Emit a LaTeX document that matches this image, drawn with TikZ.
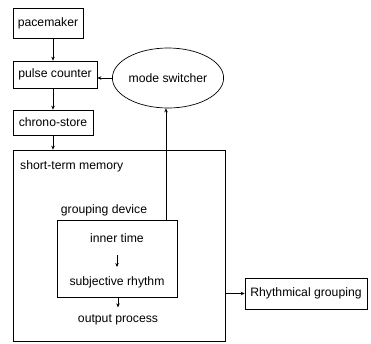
\documentclass[tikz,border=0pt]{standalone}
\usepackage{fontspec}
\setmainfont{Liberation Sans}
\usetikzlibrary{arrows.meta,shapes.geometric,calc}
\begin{document}
\begin{tikzpicture}[x=1pt,y=-1pt,
  every node/.style={font=\fontsize{12.2}{14}\selectfont, inner sep=0pt},
  box/.style={draw, line width=0.7pt},
  lbl/.style={},
  conn/.style={line width=0.7pt, -{Stealth[length=4pt,width=3.5pt]}},
  plain/.style={line width=0.7pt}]
\useasboundingbox (0,0) rectangle (371,343);
% top chain
\node[box, minimum width=70pt, minimum height=30pt] (pm) at (48,23) {pacemaker};
\node[box, minimum width=84pt, minimum height=27pt] (pc) at (55,74.5) {pulse counter};
\node[box, minimum width=80pt, minimum height=25pt] (cs) at (53,122.5) {chrono-store};
\node[box, minimum width=212pt, minimum height=191pt] (stm) at (119,245.5) {};
\node[draw, ellipse, line width=0.7pt, minimum width=106pt, minimum height=60pt] (ms) at (168,78) {mode switcher};
\coordinate (ax) at (53,0);
\draw[conn] (pm.south -| ax) -- (pc.north -| ax);
\draw[conn] (pc.south -| ax) -- (cs.north -| ax);
\draw[conn] (cs.south -| ax) -- (stm.north -| ax);
\draw[conn] (ms.west) -- (ms.west -| pc.east);
% memory contents
\node[lbl, anchor=west] (stml) at (20,166) {short-term memory};
\node[lbl] (gdl) at (104,210) {grouping device};
\node[box, minimum width=120pt, minimum height=77pt] (gd) at (117,258.5) {};
\node[lbl] (it) at (117,238) {inner time};
\node[lbl] (sr) at (117,282) {subjective rhythm};
\node[lbl] (op) at (118,320) {output process};
\coordinate (vx) at (166,0);
\draw[conn] (gd.north -| vx) -- (ms.south -| vx);
\draw[conn] (117,255) coordinate (a1) -- (117,267) coordinate (a2);
\draw[conn] (gd.south -| op) -- ($(gd.south -| op)+(0,10)$) coordinate (a3);
% rhythmical grouping
\node[box, minimum width=122pt, minimum height=31pt] (rg) at (306,293.5) {Rhythmical grouping};
\draw[conn] (rg.west -| stm.east) -- (rg.west);
\end{tikzpicture}
\end{document}
